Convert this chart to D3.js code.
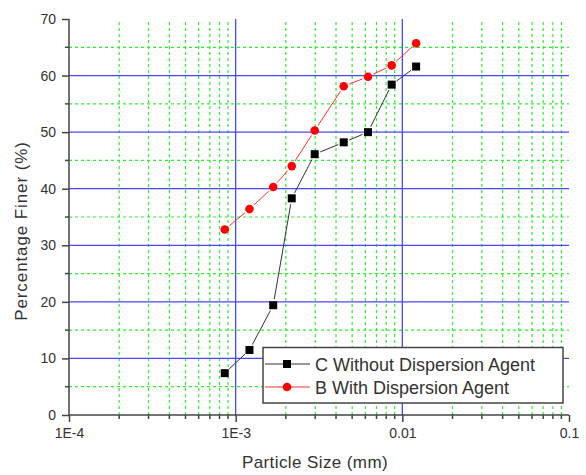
<!DOCTYPE html>
<html><head><meta charset="utf-8">
<script src="https://cdn.jsdelivr.net/npm/d3@7"></script>
<style>body{margin:0;background:#fff}svg{display:block}text{font-family:"Liberation Sans",Arial,sans-serif}</style>
</head><body><svg id="c" width="586" height="475"></svg>
<script>
const sizes = [0.00086, 0.00121, 0.00168, 0.00217, 0.00298, 0.00445, 0.00622, 0.00863, 0.0121];
const withoutAgent = [7.4, 11.5, 19.4, 38.3, 46.1, 48.2, 50.0, 58.4, 61.6];
const withAgent = [32.8, 36.4, 40.3, 44.0, 50.3, 58.1, 59.8, 61.8, 65.7];
const seriesNames = ["C Without Dispersion Agent", "B With Dispersion Agent"];
const xTickValues = [1e-4, 1e-3, 1e-2, 1e-1];
const xTickLabels = ["1E-4", "1E-3", "0.01", "0.1"];
const yTickValues = [0, 10, 20, 30, 40, 50, 60, 70];

const svg = d3.select("#c");
const x = d3.scaleLog().domain([1e-4, 0.1]).range([69, 569]);
const y = d3.scaleLinear().domain([0, 70]).range([415, 19]);

const minorX = [];
for (let e = -4; e < -1; e++) for (let m = 2; m <= 9; m++) minorX.push(m * Math.pow(10, e));
const minorY = d3.range(5, 70, 10);

const grid = svg.append("g");
grid.selectAll(".mx").data(minorX).enter().append("line")
  .attr("x1", d => x(d)).attr("x2", d => x(d)).attr("y1", y(0)).attr("y2", y(70))
  .attr("stroke", "#2eef2e").attr("stroke-width", 1.2).attr("stroke-dasharray", "3,3");
grid.selectAll(".my").data(minorY).enter().append("line")
  .attr("y1", d => y(d)).attr("y2", d => y(d)).attr("x1", x(1e-4)).attr("x2", x(0.1))
  .attr("stroke", "#2eef2e").attr("stroke-width", 1.2).attr("stroke-dasharray", "3,3");
grid.selectAll(".Mx").data([1e-3, 1e-2]).enter().append("line")
  .attr("x1", d => x(d)).attr("x2", d => x(d)).attr("y1", y(0)).attr("y2", y(70))
  .attr("stroke", "#4848ff").attr("stroke-width", 1.3);
grid.selectAll(".My").data([10, 20, 30, 40, 50, 60]).enter().append("line")
  .attr("y1", d => y(d)).attr("y2", d => y(d)).attr("x1", x(1e-4)).attr("x2", x(0.1))
  .attr("stroke", "#4848ff").attr("stroke-width", 1.3);

const axisColor = "#444";
const yAxis = d3.axisLeft(y).tickValues(yTickValues).tickSize(7).tickPadding(6);
const gy = svg.append("g").attr("transform", `translate(${x(1e-4)},0)`).call(yAxis);
gy.selectAll("text").attr("font-size", 14).attr("fill", "#333").attr("font-family", "Liberation Sans, Arial, sans-serif");
gy.selectAll("line").attr("stroke", axisColor).attr("stroke-width", 1.5);
gy.select(".domain").attr("stroke", axisColor).attr("stroke-width", 1.5).attr("d", `M0,${y(70)}V${y(0)}`);
svg.append("g").selectAll("line").data(minorY).enter().append("line")
  .attr("x1", x(1e-4) - 4).attr("x2", x(1e-4)).attr("y1", d => y(d)).attr("y2", d => y(d))
  .attr("stroke", axisColor).attr("stroke-width", 1.5);

const xAxis = d3.axisBottom(x).tickValues(xTickValues).tickFormat((d, i) => xTickLabels[i]).tickSize(7).tickPadding(6);
const gx = svg.append("g").attr("transform", `translate(0,${y(0)})`).call(xAxis);
gx.selectAll("text").attr("font-size", 14).attr("fill", "#333").attr("font-family", "Liberation Sans, Arial, sans-serif");
gx.selectAll("line").attr("stroke", axisColor).attr("stroke-width", 1.5);
gx.select(".domain").attr("stroke", axisColor).attr("stroke-width", 1.5).attr("d", `M${x(1e-4)},0H${x(0.1)}`);
svg.append("g").selectAll("line").data(minorX).enter().append("line")
  .attr("x1", d => x(d)).attr("x2", d => x(d)).attr("y1", y(0)).attr("y2", y(0) + 4)
  .attr("stroke", axisColor).attr("stroke-width", 1.5);

svg.append("text").attr("x", 315).attr("y", 468).attr("text-anchor", "middle")
  .attr("font-size", 17).attr("letter-spacing", 0.4).attr("fill", "#333").text("Particle Size (mm)");
svg.append("text").attr("transform", "translate(27,231) rotate(-90)").attr("text-anchor", "middle")
  .attr("font-size", 17).attr("letter-spacing", 0.9).attr("fill", "#333").text("Percentage Finer (%)");

function drawSeries(vals, color, gap) {
  const pts = sizes.map((s, i) => [x(s), y(vals[i])]);
  const g = svg.append("g");
  for (let i = 0; i < pts.length - 1; i++) {
    const [x1, y1] = pts[i], [x2, y2] = pts[i + 1];
    const L = Math.hypot(x2 - x1, y2 - y1);
    if (L <= 2 * gap) continue;
    const ux = (x2 - x1) / L, uy = (y2 - y1) / L;
    g.append("line").attr("x1", x1 + ux * gap).attr("y1", y1 + uy * gap)
      .attr("x2", x2 - ux * gap).attr("y2", y2 - uy * gap)
      .attr("stroke", color).attr("stroke-width", 1);
  }
  return pts;
}
const pb = drawSeries(withoutAgent, "#333", 6);
const pr = drawSeries(withAgent, "#ff3030", 6);
svg.append("g").selectAll("rect").data(pb).enter().append("rect")
  .attr("x", d => d[0] - 4).attr("y", d => d[1] - 4).attr("width", 8).attr("height", 8).attr("fill", "#000");
svg.append("g").selectAll("circle").data(pr).enter().append("circle")
  .attr("cx", d => d[0]).attr("cy", d => d[1]).attr("r", 4.3).attr("fill", "#ff0000");

const lg = svg.append("g");
lg.append("rect").attr("x", 263).attr("y", 347.5).attr("width", 300).attr("height", 55.5)
  .attr("fill", "#fff").attr("stroke", "#444").attr("stroke-width", 1.5);
const rows = [{name: seriesNames[0], color: "#333", mark: "sq", yy: 364}, {name: seriesNames[1], color: "#ff3030", mark: "ci", yy: 387}];
rows.forEach(r => {
  lg.append("line").attr("x1", 265).attr("x2", 310).attr("y1", r.yy).attr("y2", r.yy).attr("stroke", r.color).attr("stroke-width", 1);
  if (r.mark === "sq") lg.append("rect").attr("x", 283).attr("y", r.yy - 4).attr("width", 8).attr("height", 8).attr("fill", "#000");
  else lg.append("circle").attr("cx", 287).attr("cy", r.yy).attr("r", 4.3).attr("fill", "#ff0000");
  lg.append("text").attr("x", 315).attr("y", r.yy + 6.5).attr("font-size", 18).attr("fill", "#333").text(r.name);
});
</script></body></html>
